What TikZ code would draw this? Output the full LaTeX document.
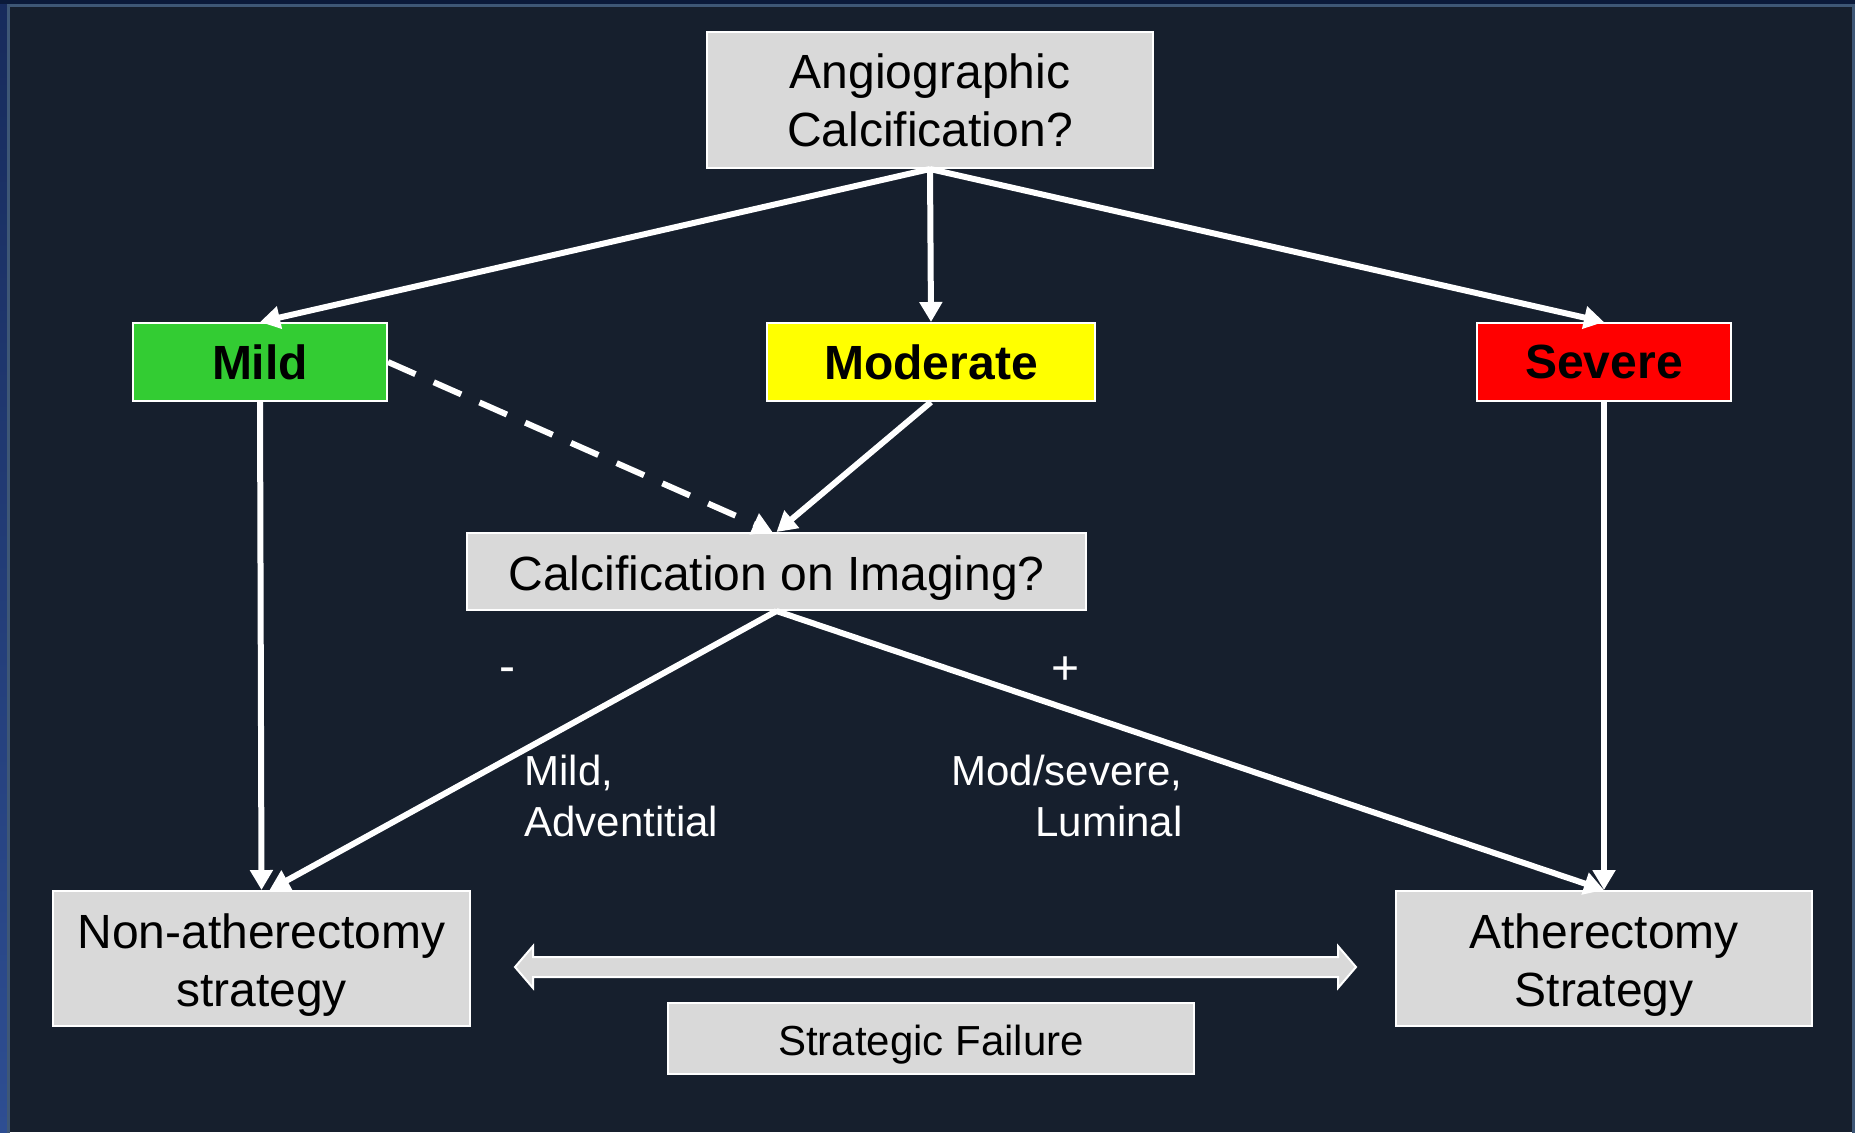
\documentclass[tikz,border=0pt]{standalone}
\usepackage{fontspec}
\setmainfont{Liberation Sans}
\usetikzlibrary{arrows.meta}

\definecolor{slidebg}{HTML}{161F2D}
\definecolor{slideedge}{HTML}{0B1A3A}
\definecolor{stripetop}{HTML}{172B5C}
\definecolor{stripebot}{HTML}{2E4E92}
\definecolor{frameline}{HTML}{3E5776}
\definecolor{boxgray}{HTML}{D9D9D9}
\definecolor{mildgreen}{HTML}{33CC33}
\definecolor{modyellow}{HTML}{FFFF00}
\definecolor{sevred}{HTML}{FF0000}

% box text, set a little below the middle of its box
\newcommand{\boxlines}[1]{\raisebox{-3.5pt}[\height][\depth]{\begin{tabular}{@{}c@{}}#1\end{tabular}}}

\tikzset{
  box/.style={draw=white, line width=1pt, fill=boxgray, text=black, inner sep=0pt,
    align=center, font=\fontsize{24}{29}\selectfont},
  grade/.style={box, font=\fontsize{24}{29}\bfseries\selectfont},
  conn/.style={draw=white, line width=3pt, -{Triangle[length=10pt,width=11pt]}},
  note/.style={text=white, inner sep=0pt, font=\fontsize{21}{25.5}\selectfont}
}

\begin{document}
\begin{tikzpicture}[x=0.5pt,y=0.5pt,yscale=-1,xscale=1]
\useasboundingbox (0,0) rectangle (1855,1132);

% Slide background and frame
\fill [slideedge] (0,0) rectangle (1855,1132);
\shade [top color=stripetop, bottom color=stripebot] (0,4) rectangle (8,1132);
\fill [slidebg] (9,7) rectangle (1853,1132);
\draw [frameline, line width=1.5pt] (8,1140) -- (8,5.5) -- (1853,5.5) -- (1853,1140);

% Text Node
\node [box, minimum width=223pt, minimum height=68pt] (angio) at (930,100) {Angiographic\\Calcification?};
% Text Node
\node [grade, fill=mildgreen, minimum width=127pt, minimum height=39pt] (mild) at (260,362) {Mild};
% Text Node
\node [grade, fill=modyellow, minimum width=164pt, minimum height=39pt] (moderate) at (931,362) {Moderate};
% Text Node
\node [grade, fill=sevred, minimum width=127pt, minimum height=39pt] (severe) at (1604,362) {Severe};
% Text Node
\node [box, minimum width=309.5pt, minimum height=38.5pt] (imaging) at (776.5,571.5) {\boxlines{Calcification on Imaging?}};
% Text Node
\node [box, minimum width=208.5pt, minimum height=67.5pt] (nonath) at (261.5,958.5) {\boxlines{Non-atherectomy\\strategy}};
% Text Node
\node [box, minimum width=208pt, minimum height=67.5pt] (ath) at (1604,958.5) {\boxlines{Atherectomy\\Strategy}};
% Text Node
\node [box, font=\fontsize{21}{25}\selectfont, minimum width=263pt, minimum height=35.5pt] (failure) at (931,1038.5) {\boxlines{Strategic Failure}};

% Text Node
\node [note, font=\fontsize{24}{29}\selectfont] (neg) at (507,675.5) {-};
\node [note, font=\fontsize{24}{29}\selectfont] (pos) at (1065,671) {+};
\node [note, anchor=west, align=left] (negtext) at (524,795.5) {Mild,\\Adventitial};
\node [note, anchor=east, align=right] (postext) at (1183,795.5) {Mod/severe,\\Luminal};

% Connection
\draw [conn] (angio.south) -- (mild.north);
\draw [conn] (angio.south) -- (moderate.north);
\draw [conn] (angio.south) -- (severe.north);
% Connection
\draw [conn, dash pattern=on 15pt off 10pt] (mild.east) -- ([xshift=-2pt]imaging.north);
\draw [conn] (moderate.south) -- (imaging.north);
% Connection
\draw [conn] (mild.south) -- (nonath.north);
\draw [conn] (imaging.south) -- ([xshift=4pt]nonath.north);
\draw [conn] (imaging.south) -- (ath.north);
\draw [conn] (severe.south) -- (ath.north);

% Double arrow
\draw [white, line width=1pt, fill=boxgray, line join=miter] (515,967) -- (533,946) -- (533,957) -- (1338,957) -- (1338,946) -- (1356,967) -- (1338,988) -- (1338,977) -- (533,977) -- (533,988) -- cycle;

\end{tikzpicture}
\end{document}
